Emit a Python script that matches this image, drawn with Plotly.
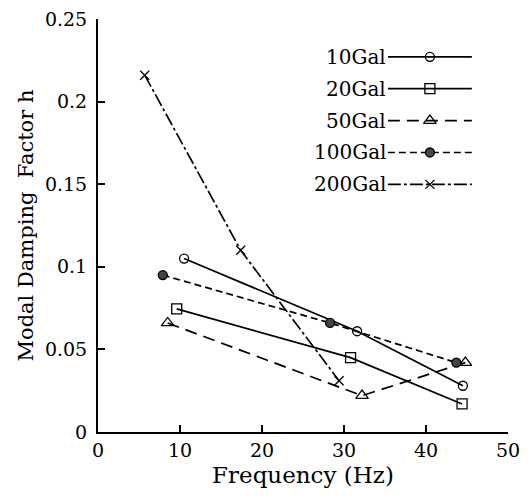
import plotly.graph_objects as go

series_names = ["10Gal", "20Gal", "50Gal", "100Gal", "200Gal"]

freq_10 = [10.5, 31.6, 44.5]
damp_10 = [0.105, 0.061, 0.028]

freq_20 = [9.6, 30.8, 44.4]
damp_20 = [0.0745, 0.045, 0.017]

freq_50 = [8.5, 32.2, 44.8]
damp_50 = [0.066, 0.022, 0.042]

freq_100 = [7.9, 28.3, 43.7]
damp_100 = [0.095, 0.066, 0.042]

freq_200 = [5.7, 17.4, 29.4]
damp_200 = [0.216, 0.110, 0.031]

x_tickvals = [0, 10, 20, 30, 40, 50]
y_tickvals = [0, 0.05, 0.1, 0.15, 0.2, 0.25]
y_ticktext = ["0", "0.05", "0.1", "0.15", "0.2", "0.25"]

xs = [freq_10, freq_20, freq_50, freq_100, freq_200]
ys = [damp_10, damp_20, damp_50, damp_100, damp_200]

FONT = "DejaVu Serif"
styles = [
    dict(dash="solid", symbol="circle-open", size=9, mcolor="black", lw=1.7),
    dict(dash="solid", symbol="square-open", size=10, mcolor="black", lw=1.7),
    dict(dash="12px,7px", symbol="triangle-up-open", size=11, mcolor="black", lw=1.7),
    dict(dash="7px,4px", symbol="circle", size=9, mcolor="#444444", lw=1.7),
    dict(dash="13px,3px,3px,3px", symbol="x-thin-open", size=9, mcolor="black", lw=1.7),
]

fig = go.Figure()

for name, x, y, st in zip(series_names, xs, ys, styles):
    fig.add_trace(go.Scatter(
        x=x, y=y, mode="lines+markers", name=name, showlegend=False,
        line=dict(color="black", width=st["lw"], dash=st["dash"]),
        marker=dict(symbol=st["symbol"], size=st["size"], color=st["mcolor"],
                    line=dict(color="black", width=1.3)),
    ))

# custom legend (text on the left, sample line with marker on the right)
for i, (name, st) in enumerate(zip(series_names, styles)):
    fig.add_trace(go.Scatter(
        x=[0, 2], y=[i, i], mode="lines", xaxis="x2", yaxis="y2",
        showlegend=False, hoverinfo="skip",
        line=dict(color="black", width=st["lw"], dash=st["dash"]),
    ))
    fig.add_trace(go.Scatter(
        x=[1], y=[i], mode="markers", xaxis="x2", yaxis="y2",
        showlegend=False, hoverinfo="skip",
        marker=dict(symbol=st["symbol"], size=st["size"], color=st["mcolor"],
                    line=dict(color="black", width=1.3)),
    ))
    fig.add_annotation(
        x=0.707, xref="paper", y=i, yref="y2", text=name, showarrow=False,
        xanchor="right", yanchor="middle",
        font=dict(family=FONT, size=20, color="black"),
    )

axis_font = dict(family=FONT, size=19, color="black")
fig.update_layout(
    width=520, height=480,
    margin=dict(l=90, r=20, t=11, b=56),
    paper_bgcolor="white", plot_bgcolor="white",
    font=dict(family=FONT, color="black"),
    xaxis=dict(
        range=[0, 50], tickvals=x_tickvals, ticks="inside", ticklen=7, tickwidth=1.5,
        tickcolor="black", showline=True, linecolor="black", linewidth=2,
        showgrid=False, zeroline=False, tickfont=axis_font, ticklabeloverflow="allow",
        automargin=False,
        title=dict(text="Frequency (Hz)", font=dict(family=FONT, size=23), standoff=8),
    ),
    yaxis=dict(
        range=[0, 0.25], tickvals=y_tickvals, ticktext=y_ticktext, ticks="inside",
        ticklen=7, tickwidth=1.5, tickcolor="black", showline=True, linecolor="black",
        linewidth=2, showgrid=False, zeroline=False, tickfont=axis_font,
        ticklabelstandoff=5, ticklabeloverflow="allow", automargin=False,
        title=dict(text="Modal Damping\u00a0\u00a0Factor h", font=dict(family=FONT, size=21), standoff=6),
    ),
    xaxis2=dict(domain=[0.707, 0.912], range=[0, 2], visible=False, fixedrange=True),
    yaxis2=dict(domain=[0.561, 0.947], range=[4.5, -0.5], visible=False, fixedrange=True,
                anchor="x2"),
)

fig.write_html("out.html")
